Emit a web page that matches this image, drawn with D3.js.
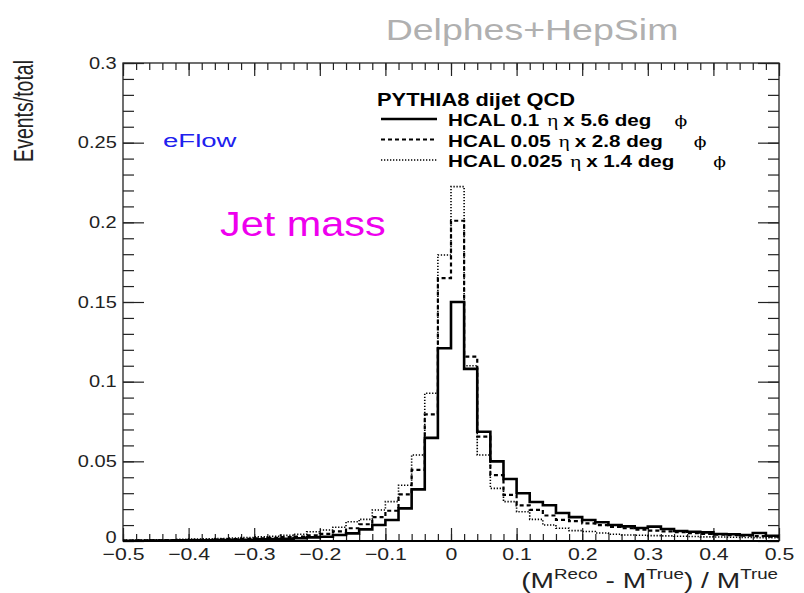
<!DOCTYPE html>
<html>
<head>
<meta charset="utf-8">
<script src="https://cdn.jsdelivr.net/npm/d3@7"></script>
<style>
  body { margin: 0; background: #fff; }
  svg { display: block; font-family: "Liberation Sans", Arial, sans-serif; }
</style>
</head>
<body>
<svg id="chart" width="804" height="593"></svg>
<script>
// Bin lower edges, width 0.02
const binLow = [-0.50,-0.48,-0.46,-0.44,-0.42,-0.40,-0.38,-0.36,-0.34,-0.32,
  -0.30,-0.28,-0.26,-0.24,-0.22,-0.20,-0.18,-0.16,-0.14,-0.12,
  -0.10,-0.08,-0.06,-0.04,-0.02,0.00,0.02,0.04,0.06,0.08,
  0.10,0.12,0.14,0.16,0.18,0.20,0.22,0.24,0.26,0.28,
  0.30,0.32,0.34,0.36,0.38,0.40,0.42,0.44,0.46,0.48];
const binWidth = 0.02;

// HCAL 0.1 x 5.6 deg (solid)
const hcal01 = [0.0002,0.0002,0.0003,0.0003,0.0004,0.0004,0.0005,0.0006,0.0007,0.0008,
  0.0010,0.0012,0.0014,0.0017,0.0023,0.0027,0.0038,0.0048,0.0073,0.0100,
  0.0132,0.0205,0.0324,0.0647,0.121,0.150,0.108,0.0686,0.050,0.0389,
  0.030,0.0245,0.0224,0.0176,0.015,0.0132,0.0118,0.0100,0.0092,0.0082,
  0.0090,0.0075,0.0063,0.0058,0.0054,0.0044,0.0042,0.0038,0.0050,0.0033];

// HCAL 0.05 x 2.8 deg (dashed)
const hcal005 = [0.0003,0.0004,0.0004,0.0005,0.0006,0.0007,0.0008,0.0010,0.0012,0.0014,
  0.0017,0.0020,0.0024,0.0028,0.0036,0.0045,0.0060,0.0080,0.0105,0.0150,
  0.0190,0.0293,0.0446,0.0795,0.165,0.201,0.1157,0.0655,0.0414,0.0289,
  0.0224,0.0195,0.0160,0.0132,0.0125,0.0110,0.0100,0.0088,0.0080,0.0072,
  0.0065,0.0060,0.0055,0.0050,0.0045,0.0040,0.0036,0.0033,0.0030,0.0028];

// HCAL 0.025 x 1.4 deg (dotted)
const hcal0025 = [0.0005,0.0006,0.0007,0.0008,0.0010,0.0012,0.0014,0.0016,0.0019,0.0022,
  0.0026,0.0030,0.0035,0.0042,0.0058,0.0069,0.0086,0.0121,0.0136,0.0195,
  0.0247,0.0350,0.0540,0.0927,0.1795,0.2224,0.110,0.054,0.033,0.0247,
  0.0184,0.0136,0.0100,0.0080,0.0065,0.0060,0.0050,0.0042,0.0038,0.0036,
  0.0034,0.0032,0.0030,0.0028,0.0026,0.0025,0.0024,0.0022,0.0021,0.0020];

const xTicks = [-0.5,-0.4,-0.3,-0.2,-0.1,0,0.1,0.2,0.3,0.4,0.5];
const yTicks = [0,0.05,0.1,0.15,0.2,0.25,0.3];

// legend rows: label parts and line style
const legendRows = [
  { name: "HCAL 0.1", eta: "x 5.6 deg", dash: null, width: 2.6 },
  { name: "HCAL 0.05", eta: "x 2.8 deg", dash: "4,3", width: 2.2 },
  { name: "HCAL 0.025", eta: "x 1.4 deg", dash: "1.3,1.7", width: 1.6 }
];

const SX = 1.25; // the picture is stretched horizontally
const svg = d3.select("#chart");
const frame = { left: 123, right: 779, top: 63, bottom: 541 };

const x = d3.scaleLinear().domain([-0.5, 0.5]).range([frame.left, frame.right]);
const y = d3.scaleLinear().domain([0, 0.3]).range([frame.bottom, frame.top]);

// helper: horizontally stretched text
function label(g, txt, px, py, size, opts = {}) {
  return g.append("text")
    .attr("transform", `translate(${px},${py}) scale(${opts.sx || SX},1)`)
    .attr("font-size", size)
    .attr("font-weight", opts.bold ? "bold" : null)
    .attr("font-family", opts.family || null)
    .attr("text-anchor", opts.anchor || "start")
    .attr("fill", opts.fill || "#000")
    .text(txt);
}

// frame
svg.append("rect")
  .attr("x", frame.left).attr("y", frame.top)
  .attr("width", frame.right - frame.left)
  .attr("height", frame.bottom - frame.top)
  .attr("fill", "none").attr("stroke", "#222").attr("stroke-width", 1.3);

// ticks, ROOT style (inside the frame on all four sides)
function drawTicks(axis, transform) {
  const g = svg.append("g").attr("transform", transform).call(axis);
  g.select(".domain").remove();
  g.selectAll("line").attr("stroke", "#222").attr("stroke-width", 1.2);
  g.selectAll("text").remove();
}
const xMinor = x.ticks(50);
const yMinor = y.ticks(30);
drawTicks(d3.axisTop(x).tickValues(xMinor).tickSize(7), `translate(0,${frame.bottom})`);
drawTicks(d3.axisTop(x).tickValues(xTicks).tickSize(13), `translate(0,${frame.bottom})`);
drawTicks(d3.axisBottom(x).tickValues(xMinor).tickSize(7), `translate(0,${frame.top})`);
drawTicks(d3.axisBottom(x).tickValues(xTicks).tickSize(13), `translate(0,${frame.top})`);
drawTicks(d3.axisRight(y).tickValues(yMinor).tickSize(11), `translate(${frame.left},0)`);
drawTicks(d3.axisRight(y).tickValues(yTicks).tickSize(21), `translate(${frame.left},0)`);
drawTicks(d3.axisLeft(y).tickValues(yMinor).tickSize(11), `translate(${frame.right},0)`);
drawTicks(d3.axisLeft(y).tickValues(yTicks).tickSize(21), `translate(${frame.right},0)`);

// bottom axis line a bit heavier
svg.append("line")
  .attr("x1", frame.left).attr("x2", frame.right)
  .attr("y1", frame.bottom).attr("y2", frame.bottom)
  .attr("stroke", "#000").attr("stroke-width", 2);

// tick labels
const xLab = svg.append("g")
  .attr("transform", `translate(0,${frame.bottom})`)
  .call(d3.axisBottom(x).tickValues(xTicks).tickSize(0).tickPadding(7).tickFormat(d3.format(".1~f")));
xLab.select(".domain").remove();
xLab.selectAll("text")
  .attr("font-size", 17).attr("fill", "#222")
  .attr("font-family", "Liberation Sans, Arial, sans-serif")
  .attr("transform", `scale(${SX},1)`);

const yLab = svg.append("g")
  .attr("transform", `translate(${frame.left},0)`)
  .call(d3.axisLeft(y).tickValues(yTicks).tickSize(0).tickPadding(5).tickFormat(d3.format(".2~f")));
yLab.select(".domain").remove();
yLab.selectAll("text")
  .attr("font-size", 16).attr("fill", "#222")
  .attr("font-family", "Liberation Sans, Arial, sans-serif")
  .attr("transform", `scale(${SX},1)`);
// the "0" label sits slightly above the corner so it clears "-0.5"
yLab.selectAll("text").filter(d => d === 0).attr("dy", "0.1em");

// axis titles
const xt = svg.append("text")
  .attr("transform", `translate(778,588) scale(${SX},1)`)
  .attr("text-anchor", "end").attr("font-size", 22.5).attr("fill", "#222");
xt.append("tspan").text("(M");
xt.append("tspan").attr("dy", -9).attr("font-size", 15).text("Reco");
xt.append("tspan").attr("dy", 9).text(" - M");
xt.append("tspan").attr("dy", -9).attr("font-size", 15).text("True");
xt.append("tspan").attr("dy", 9).text(") / M");
xt.append("tspan").attr("dy", -9).attr("font-size", 15).text("True");

svg.append("text")
  .attr("transform", `translate(33,60) rotate(-90) scale(1,1.4)`)
  .attr("text-anchor", "end").attr("font-size", 19.5).attr("fill", "#222")
  .text("Events/total");

// histograms
const line = d3.line()
  .x(d => x(d[0])).y(d => y(d[1]))
  .curve(d3.curveStepAfter);
function steps(vals) {
  const pts = binLow.map((b, i) => [b, vals[i]]);
  pts.push([binLow[binLow.length - 1] + binWidth, vals[vals.length - 1]]);
  return pts;
}
const series = [
  { vals: hcal0025, row: legendRows[2] },
  { vals: hcal005, row: legendRows[1] },
  { vals: hcal01, row: legendRows[0] }
];
svg.append("g").selectAll("path")
  .data(series)
  .join("path")
  .attr("d", d => line(steps(d.vals)))
  .attr("fill", "none")
  .attr("stroke", "#000")
  .attr("stroke-width", d => d.row.width)
  .attr("stroke-dasharray", d => d.row.dash);

// legend
const leg = svg.append("g");
label(leg, "PYTHIA8 dijet QCD", 377, 106, 17.5, { bold: true });
legendRows.forEach((r, i) => {
  const cy = 119 + i * 20.5;
  leg.append("line")
    .attr("x1", 381).attr("x2", 437)
    .attr("y1", cy).attr("y2", cy)
    .attr("stroke", "#000").attr("stroke-width", r.width)
    .attr("stroke-dasharray", r.dash);
  const base = cy + 7;
  const t = label(leg, r.name, 448, base, 16.5, { bold: true });
  const w = t.node().getBBox().width * SX;
  label(leg, "\u03b7", 448 + w + 8, base, 17, { family: "Liberation Serif, DejaVu Serif, serif" });
  const t2 = label(leg, r.eta, 448 + w + 24, base, 16.5, { bold: true });
  const w2 = t2.node().getBBox().width * SX;
  label(leg, "\u03d5", 448 + w + 24 + w2 + 23 + i * 8, base, 15, { family: "DejaVu Serif, serif" });
});

// annotations
label(svg, "Delphes+HepSim", 532, 40, 30, { anchor: "middle", fill: "#b0b0b0" });
label(svg, "eFlow", 163, 147, 19, { fill: "#2020ee", sx: 1.45 });
label(svg, "Jet mass", 220, 236, 36, { fill: "#ee00ee", sx: 1.15 });
</script>
</body>
</html>
